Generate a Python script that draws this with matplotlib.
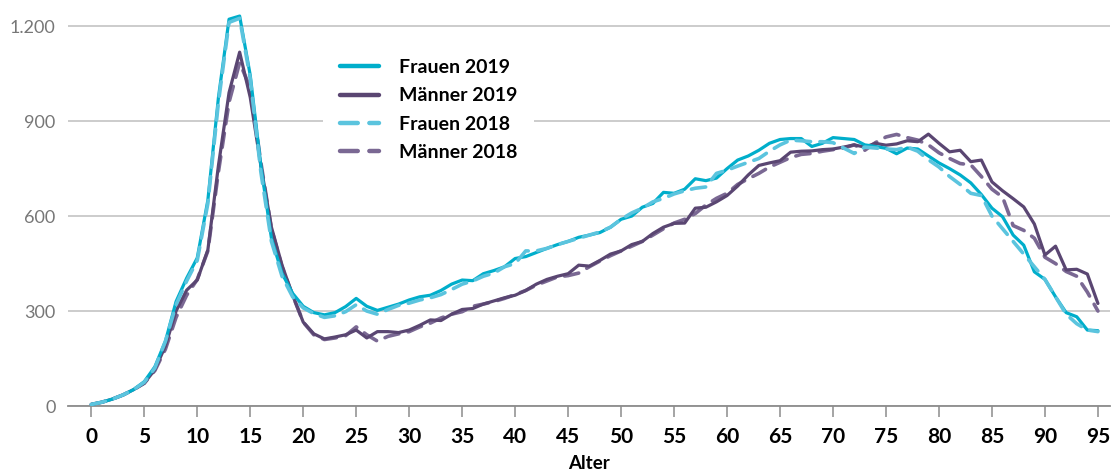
import numpy as np
import matplotlib
matplotlib.use("Agg")
import matplotlib.pyplot as plt
from matplotlib.ticker import FuncFormatter

plt.rcParams['font.family'] = ['Lato', 'DejaVu Sans']

alter = list(range(0, 96))

frauen_2019 = [5, 12, 22, 35, 52, 77, 124, 205, 330, 404, 468, 650, 975, 1222, 1232, 1045, 760, 530, 419, 356,
               315, 295, 288, 295, 314, 340, 315, 302, 312, 322, 335, 345, 350, 365, 385, 398, 396, 418, 428, 440,
               466, 472, 485, 498, 510, 520, 533, 540, 548, 565, 590, 600, 628, 640, 675, 672, 685, 718, 712, 720,
               750, 777, 790, 808, 830, 842, 845, 845, 820, 830, 848, 845, 842, 825, 820, 814, 797, 815, 812, 790,
               768, 750, 730, 705, 668, 625, 598, 540, 508, 424, 400, 345, 295, 282, 240, 238]

maenner_2019 = [5, 12, 22, 35, 52, 72, 115, 190, 300, 366, 398, 493, 760, 990, 1118, 975, 760, 565, 445, 350,
                265, 228, 212, 218, 225, 240, 215, 235, 235, 232, 240, 255, 272, 270, 290, 305, 308, 322, 332, 342,
                350, 365, 385, 400, 410, 418, 445, 442, 460, 480, 490, 510, 520, 545, 565, 577, 578, 625, 628, 645,
                665, 695, 730, 760, 768, 775, 802, 805, 806, 810, 812, 818, 825, 818, 830, 824, 828, 838, 835, 859,
                830, 803, 808, 772, 777, 708, 680, 655, 629, 575, 477, 505, 430, 432, 417, 324]

frauen_2018 = [5, 12, 22, 35, 52, 75, 120, 205, 320, 395, 460, 640, 960, 1212, 1225, 1035, 740, 520, 410, 345,
               310, 292, 280, 285, 298, 320, 300, 290, 305, 318, 325, 335, 342, 352, 368, 385, 395, 410, 420, 440,
               450, 490, 490, 498, 510, 520, 530, 540, 550, 565, 590, 610, 625, 645, 656, 670, 680, 688, 692, 735,
               745, 758, 770, 782, 805, 825, 840, 838, 835, 835, 832, 815, 798, 818, 815, 812, 810, 818, 805, 778,
               755, 725, 700, 672, 665, 600, 560, 520, 480, 440, 400, 345, 290, 260, 240, 235]

maenner_2018 = [5, 12, 22, 35, 52, 72, 112, 180, 280, 350, 400, 490, 740, 960, 1085, 1005, 770, 560, 440, 350,
                265, 225, 210, 215, 222, 250, 225, 205, 220, 228, 235, 250, 262, 278, 290, 298, 315, 322, 330, 340,
                352, 365, 382, 395, 408, 412, 420, 440, 458, 475, 490, 505, 520, 540, 560, 578, 590, 608, 635, 656,
                672, 700, 718, 735, 755, 770, 785, 795, 798, 805, 810, 815, 825, 808, 832, 850, 858, 848, 840, 825,
                800, 782, 766, 762, 725, 685, 660, 570, 555, 530, 470, 450, 425, 410, 360, 300]

fig = plt.figure(figsize=(11.2, 4.71), dpi=100)
ax = fig.add_axes([0.0607, 0.138, 0.930, 0.840])

ax.plot(alter, frauen_2019, color='#00AECB', linewidth=2.3, label='Frauen 2019', solid_capstyle='round', zorder=4)
ax.plot(alter, maenner_2019, color='#5A4672', linewidth=2.3, label='Männer 2019', solid_capstyle='round', zorder=3)
ax.plot(alter, frauen_2018, color='#5BC4DE', linewidth=2.6, label='Frauen 2018',
        dashes=(4.0, 2.6), dash_capstyle='round', zorder=5)
ax.plot(alter, maenner_2018, color='#7A6893', linewidth=2.6, label='Männer 2018',
        dashes=(4.0, 2.6), dash_capstyle='round', zorder=2)

ax.set_xlim(-2.2, 96.1)
ax.set_ylim(0, 1250)
ax.set_yticks([0, 300, 600, 900, 1200])
ax.yaxis.set_major_formatter(FuncFormatter(lambda v, p: f"{int(v):,}".replace(",", ".")))
ax.set_xticks(range(0, 96, 5))

ax.grid(axis='y', color='#c8c8c8', linewidth=1.3)
ax.set_axisbelow(True)
for s in ['top', 'right', 'left']:
    ax.spines[s].set_visible(False)
ax.spines['bottom'].set_color('#8c8c8c')
ax.spines['bottom'].set_linewidth(1.3)

ax.tick_params(axis='y', length=0, pad=9, labelsize=13, labelcolor='#777777')
ax.tick_params(axis='x', length=8, width=1.1, color='#8c8c8c', pad=7, labelsize=15)
for lab in ax.get_xticklabels():
    lab.set_fontweight('bold')

ax.set_xlabel('Alter', fontsize=13.5, fontweight='bold', labelpad=6)

# legend sits on a white box that cuts the 900 gridline
leg = ax.legend(loc='upper left', bbox_to_anchor=(313 / 1120, 1 - 32 / 471), bbox_transform=fig.transFigure,
                frameon=True, facecolor='white', edgecolor='none', framealpha=1, fancybox=False,
                handlelength=2.0, handletextpad=1.0, labelspacing=0.58, borderpad=0.9,
                prop={'weight': 'bold', 'size': 14})
leg.set_zorder(10)
for h in leg.get_lines():
    h.set_linewidth(3.2)

fig.savefig('out.png', dpi=100)
